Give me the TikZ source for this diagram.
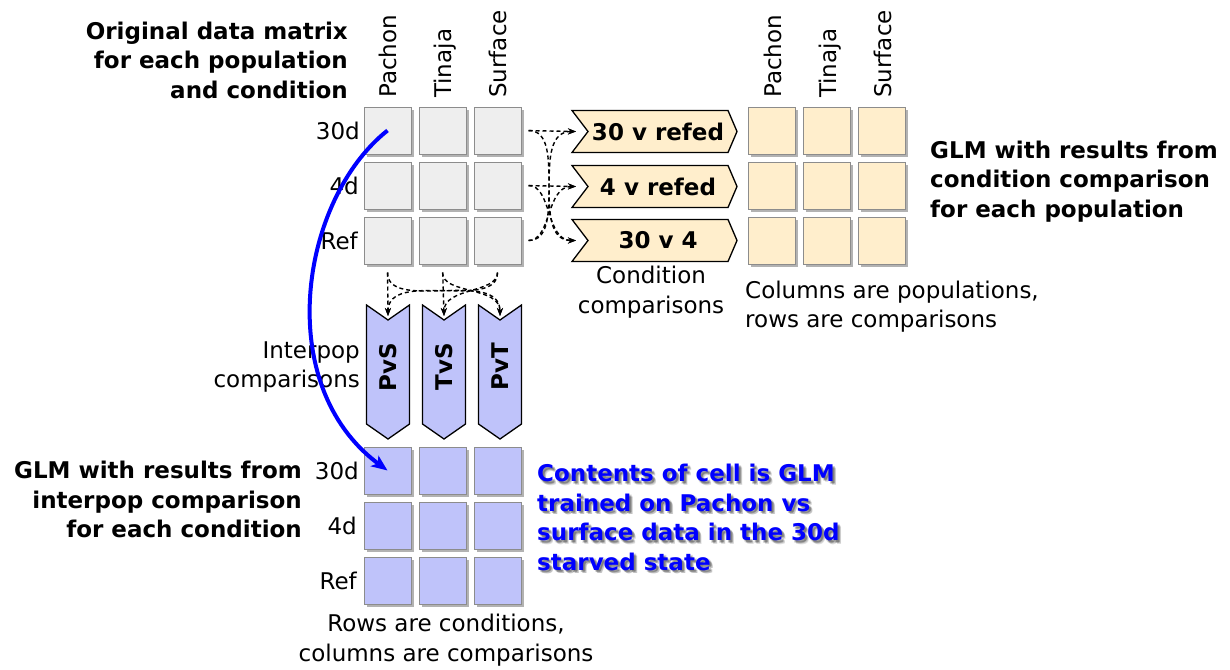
\documentclass[tikz,border=0pt]{standalone}
\usepackage{fontspec}
\setmainfont{DejaVu Sans}
\usetikzlibrary{shadows,arrows.meta}
\definecolor{cellgrey}{RGB}{238,238,238}
\definecolor{cellyel}{RGB}{255,238,204}
\definecolor{cellblue}{RGB}{191,195,250}
\definecolor{cellborder}{RGB}{140,140,140}
\tikzset{
  cell/.style={draw=cellborder, line width=1pt, minimum size=47pt, inner sep=0pt,
    drop shadow={shadow xshift=2.5pt, shadow yshift=-2.5pt, opacity=0.3, fill=black}},
  greycell/.style={cell, fill=cellgrey},
  yelcell/.style={cell, fill=cellyel},
  bluecell/.style={cell, fill=cellblue},
  lbl/.style={font=\fontsize{23}{29.5}\selectfont, inner sep=0pt},
  blbl/.style={font=\fontsize{23}{29.5}\selectfont\bfseries, inner sep=0pt},
  chevron/.style={draw=black, line width=1.3pt, line join=miter},
  dconn/.style={dash pattern=on 4pt off 3pt, line width=1.4pt, -{Stealth[length=8pt,width=6pt]}},
  bluearrow/.style={draw=blue, line width=4pt, -{Stealth[length=16pt,width=13pt,inset=4pt]}},
}
\begin{document}
\begin{tikzpicture}[x=1pt,y=1pt]
\useasboundingbox (0,0) rectangle (1230,-669);

% ---------- grey grid (original data) ----------
\foreach \c/\x in {1/387.5,2/442.5,3/497.5}{
  \foreach \r/\y in {1/130.5,2/185.5,3/240.5}{
    \node[greycell] (g\r\c) at (\x,-\y) {};
  }
}
% ---------- yellow grid ----------
\foreach \c/\x in {1/772,2/827,3/882}{
  \foreach \r/\y in {1/130.5,2/185.5,3/240.5}{
    \node[yelcell] (y\r\c) at (\x,-\y) {};
  }
}
% ---------- blue grid ----------
\foreach \c/\x in {1/387.5,2/442.5,3/497.5}{
  \foreach \r/\y in {1/470.5,2/525.5,3/580.5}{
    \node[bluecell] (b\r\c) at (\x,-\y) {};
  }
}

% ---------- column headers ----------
\node[lbl, rotate=90, anchor=base west] (hg1) at (396.5,-98) {Pachon};
\node[lbl, rotate=90, anchor=base west] (hg2) at (451.5,-98) {Tinaja};
\node[lbl, rotate=90, anchor=base west] (hg3) at (506.5,-98) {Surface};
\node[lbl, rotate=90, anchor=base west] (hy1) at (781,-98) {Pachon};
\node[lbl, rotate=90, anchor=base west] (hy2) at (836,-98) {Tinaja};
\node[lbl, rotate=90, anchor=base west] (hy3) at (891,-98) {Surface};

% ---------- row labels ----------
\node[lbl, anchor=east] (rg1) at (360,-130.5) {30d};
\node[lbl, anchor=east] (rg2) at (359,-185.5) {4d};
\node[lbl, anchor=east] (rg3) at (358,-240.5) {Ref};
\node[lbl, anchor=east] (rb1) at (359,-470.5) {30d};
\node[lbl, anchor=east] (rb2) at (357,-525.5) {4d};
\node[lbl, anchor=east] (rb3) at (357,-580.5) {Ref};

% ---------- condition comparison chevrons ----------
\foreach \i/\cy in {1/131.5,2/186.5,3/240.5}{
  \filldraw[chevron, fill=cellyel] (572,-\cy+21) -- (728,-\cy+21) -- (737,-\cy) -- (728,-\cy-21)
     -- (572,-\cy-21) -- (588,-\cy) -- cycle;
  \coordinate (ci\i) at (576,-\cy);
}
\node[blbl] (cc1) at (658,-131.5) {30 v refed};
\node[blbl] (cc2) at (658,-186.5) {4 v refed};
\node[blbl] (cc3) at (658,-240.5) {30 v 4};

% ---------- interpop chevrons ----------
\foreach \i/\cx in {1/388,2/444,3/500}{
  \filldraw[chevron, fill=cellblue] (\cx-21.5,-305) -- (\cx,-320) -- (\cx+21.5,-305) -- (\cx+21.5,-424)
     -- (\cx,-439) -- (\cx-21.5,-424) -- cycle;
  \coordinate (pv\i) at (\cx,-316);
}
\node[blbl, rotate=90] (ip1) at (388,-367) {PvS};
\node[blbl, rotate=90] (ip2) at (444,-367) {TvS};
\node[blbl, rotate=90] (ip3) at (500,-367) {PvT};

% ---------- dashed connectors: conditions ----------
\draw[dconn, shorten <=7pt] (g13.east) -- (ci1);
\draw[dconn, shorten <=7pt] (g13.east) to[out=0,in=180] (ci3);
\draw[dconn, shorten <=7pt] (g23.east) -- (ci2);
\draw[dconn, shorten <=7pt] (g23.east) to[out=0,in=180] (ci3);
\draw[dconn, shorten <=7pt] (g33.east) to[out=0,in=180] (ci1);
\draw[dconn, shorten <=7pt] (g33.east) to[out=0,in=180] (ci2);

% ---------- dashed connectors: populations ----------
\draw[dconn, shorten <=8pt] (g31.south) -- (pv1);
\draw[dconn, shorten <=8pt] (g31.south) to[out=-90,in=90] (pv3);
\draw[dconn, shorten <=8pt] (g32.south) -- (pv2);
\draw[dconn, shorten <=8pt] (g32.south) to[out=-90,in=90] (pv3);
\draw[dconn, shorten <=8pt] (g33.south) to[out=-90,in=90] (pv1);
\draw[dconn, shorten <=8pt] (g33.south) to[out=-90,in=90] (pv2);

% ---------- text blocks ----------
\node[blbl, align=right, anchor=north east] (t1) at (348,-21.5)
  {Original data matrix\\for each population\\and condition};
\node[blbl, align=left, anchor=north west] (t2) at (930,-140.5)
  {GLM with results from\\condition comparison\\for each population};
\node[lbl, align=center, anchor=north] (t3) at (651,-266)
  {Condition\\comparisons};
\node[lbl, align=left, anchor=north west] (t4) at (745,-280.5)
  {Columns are populations,\\rows are comparisons};
\node[lbl, align=right, anchor=north east] (t5) at (360,-341.5)
  {Interpop\\comparisons};
\node[blbl, align=right, anchor=north east] (t6) at (302,-461)
  {GLM with results from\\interpop comparison\\for each condition};
\node[lbl, align=center, anchor=north] (t7) at (446,-614)
  {Rows are conditions,\\columns are comparisons};

% ---------- blue note with soft shadow ----------
\foreach \k/\dx/\dy in {1/2/-2,2/3/-3,3/2.5/-1.5,4/1.5/-2.5,5/3.5/-3.5}{
  \node[blbl, align=left, anchor=north west, text=black, opacity=0.13] (ns\k) at (537+\dx,-464+\dy)
    {Contents of cell is GLM\\trained on Pachon vs\\surface data in the 30d\\starved state};
}
\node[blbl, align=left, anchor=north west, text=blue] (note) at (537,-464)
  {Contents of cell is GLM\\trained on Pachon vs\\surface data in the 30d\\starved state};

% ---------- blue curved arrow ----------
\draw[bluearrow] (g11.center) .. controls (300,-200) and (272,-385) .. (b11.center);

\end{tikzpicture}
\end{document}
